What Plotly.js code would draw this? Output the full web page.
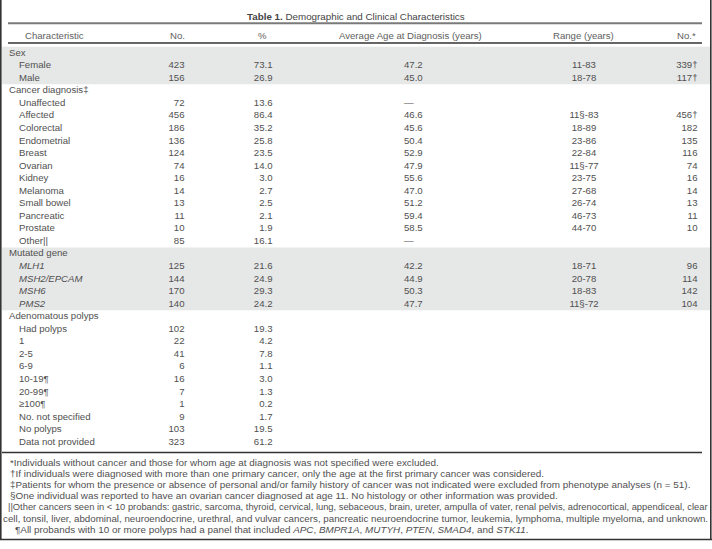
<!DOCTYPE html>
<html>
<head>
<meta charset="utf-8">
<script src="https://cdn.plot.ly/plotly-3.0.1.min.js"></script>
<style>html,body{margin:0;padding:0;background:#fff;}#chart{width:712px;height:549px;}</style>
</head>
<body>
<div id="chart"></div>
<script>
// ---------------- data ----------------
var characteristic = ["Sex","Female","Male","Cancer diagnosis‡","Unaffected","Affected","Colorectal","Endometrial","Breast","Ovarian","Kidney","Melanoma","Small bowel","Pancreatic","Prostate","Other||","Mutated gene","MLH1","MSH2/EPCAM","MSH6","PMS2","Adenomatous polyps","Had polyps","1","2-5","6-9","10-19¶","20-99¶","≥100¶","No. not specified","No polyps","Data not provided"];
var isGroup = [1,0,0,1,0,0,0,0,0,0,0,0,0,0,0,0,1,0,0,0,0,1,0,0,0,0,0,0,0,0,0,0];
var isGene  = [0,0,0,0,0,0,0,0,0,0,0,0,0,0,0,0,0,1,1,1,1,0,0,0,0,0,0,0,0,0,0,0];
var countNo = ["","423","156","","72","456","186","136","124","74","16","14","13","11","10","85","","125","144","170","140","","102","22","41","6","16","7","1","9","103","323"];
var percent = ["","73.1","26.9","","13.6","86.4","35.2","25.8","23.5","14.0","3.0","2.7","2.5","2.1","1.9","16.1","","21.6","24.9","29.3","24.2","","19.3","4.2","7.8","1.1","3.0","1.3","0.2","1.7","19.5","61.2"];
var avgAge  = ["","47.2","45.0","","—","46.6","45.6","50.4","52.9","47.9","55.6","47.0","51.2","59.4","58.5","—","","42.2","44.9","50.3","47.7","","","","","","","","","","",""];
var ageRange = ["","11-83","18-78","","","11§-83","18-89","23-86","22-84","11§-77","23-75","27-68","26-74","46-73","44-70","","","18-71","20-78","18-83","11§-72","","","","","","","","","","",""];
var ageNo   = ["","339†","117†","","","456†","182","135","116","74","16","14","13","11","10","","","96","114","142","104","","","","","","","","","","",""];
var headers = ["Characteristic","No.","%","Average Age at Diagnosis (years)","Range (years)","No.*"];
var shadedGroups = [[0,2],[16,20]];
var titleBold = "Table 1.";
var titleRest = "Demographic and Clinical Characteristics";
var footnotes = [
  "*Individuals without cancer and those for whom age at diagnosis was not specified were excluded.",
  "†If individuals were diagnosed with more than one primary cancer, only the age at the first primary cancer was considered.",
  "‡Patients for whom the presence or absence of personal and/or family history of cancer was not indicated were excluded from phenotype analyses (n = 51).",
  "§One individual was reported to have an ovarian cancer diagnosed at age 11. No histology or other information was provided.",
  "||Other cancers seen in < 10 probands: gastric, sarcoma, thyroid, cervical, lung, sebaceous, brain, ureter, ampulla of vater, renal pelvis, adrenocortical, appendiceal, clear",
  "cell, tonsil, liver, abdominal, neuroendocrine, urethral, and vulvar cancers, pancreatic neuroendocrine tumor, leukemia, lymphoma, multiple myeloma, and unknown.",
  "¶All probands with 10 or more polyps had a panel that included <i>APC</i>, <i>BMPR1A</i>, <i>MUTYH</i>, <i>PTEN</i>, <i>SMAD4</i>, and <i>STK11</i>."
];

// ---------------- layout constants ----------------
var W = 712, H = 549;
var ROW0 = 53.3, PITCH = 12.55;
var FONT = "Liberation Sans, Arial, sans-serif";
var TXT = "#505050";
var FS = 9.6;
function rowY(i){ return ROW0 + i*PITCH; }
var ys = characteristic.map(function(_, i){ return rowY(i); });

var col = {group:9, item:19, count:184.5, pct:272.5, avg:404, range:584, ageNo:697.5};

function textTrace(xs, texts, pos){
  return {
    type:"scatter", mode:"text", x:xs, y:ys, text:texts,
    textposition:pos, textfont:{family:FONT, size:FS, color:TXT},
    hoverinfo:"skip", showlegend:false, cliponaxis:false
  };
}
function constX(v){ return ys.map(function(){ return v; }); }

var charText = characteristic.map(function(c, i){ return isGene[i] ? "<i>"+c+"</i>" : c; });
var charX = isGroup.map(function(g){ return g ? col.group : col.item; });

var traces = [
  textTrace(charX, charText, "middle right"),
  textTrace(constX(col.count), countNo, "middle left"),
  textTrace(constX(col.pct), percent, "middle left"),
  textTrace(constX(col.avg), avgAge, "middle right"),
  textTrace(constX(col.range), ageRange, "middle center"),
  textTrace(constX(col.ageNo), ageNo, "middle left")
];

var shapes = [];
shadedGroups.forEach(function(g){
  shapes.push({type:"rect", xref:"x", yref:"y", x0:2, x1:710, y0:rowY(g[0])-6.6, y1:rowY(g[1])+5.9,
    fillcolor:"#e6e7e7", line:{width:0}, layer:"below"});
});
// rules
shapes.push({type:"line", xref:"x", yref:"y", x0:8, x1:702, y0:23.3, y1:23.3, line:{color:"#7a7a7a", width:2}});
shapes.push({type:"line", xref:"x", yref:"y", x0:8, x1:702, y0:43, y1:43, line:{color:"#333", width:1.5}});
shapes.push({type:"line", xref:"x", yref:"y", x0:2, x1:702, y0:452.5, y1:452.5, line:{color:"#333", width:1.5}});
// frame
shapes.push({type:"line", xref:"x", yref:"y", x0:0.8, x1:0.8, y0:0, y1:540, line:{color:"#333", width:1.6}});
shapes.push({type:"line", xref:"x", yref:"y", x0:710.8, x1:710.8, y0:0, y1:540, line:{color:"#333", width:1.6}});
shapes.push({type:"line", xref:"x", yref:"y", x0:0, x1:712, y0:539.5, y1:539.5, line:{color:"#333", width:1.6}});

var annotations = [];
annotations.push({x:356, y:16, xref:"x", yref:"y", xanchor:"center", yanchor:"middle", showarrow:false,
  text:"<b>"+titleBold+"</b> "+titleRest, font:{family:FONT, size:9.8, color:"#444"}});
var hdr = [
  {x:54, anchor:"center"},
  {x:177, anchor:"center"},
  {x:262.5, anchor:"center"},
  {x:410, anchor:"center"},
  {x:583.5, anchor:"center"},
  {x:697.5, anchor:"right"}
];
headers.forEach(function(h, i){
  annotations.push({x:hdr[i].x, y:35, xref:"x", yref:"y", xanchor:hdr[i].anchor, yanchor:"middle", showarrow:false,
    text:h, font:{family:FONT, size:FS, color:"#606060"}});
});
var fnX = [8,8,8,8,6,1,13];
var fnSize = [9.9,9.9,9.9,9.9,9.35,9.75,9.9];
footnotes.forEach(function(f, i){
  annotations.push({x:fnX[i], y:462.5 + i*11.1, xref:"x", yref:"y", xanchor:"left", yanchor:"middle", showarrow:false,
    text:f, font:{family:FONT, size:fnSize[i], color:TXT}});
});

var layout = {
  width:W, height:H, margin:{l:0,r:0,t:0,b:0},
  paper_bgcolor:"#fff", plot_bgcolor:"#fff",
  xaxis:{range:[0,W], visible:false, fixedrange:true},
  yaxis:{range:[H,0], visible:false, fixedrange:true},
  shapes:shapes, annotations:annotations, showlegend:false
};
Plotly.newPlot("chart", traces, layout, {displayModeBar:false, staticPlot:true});
</script>
</body>
</html>
